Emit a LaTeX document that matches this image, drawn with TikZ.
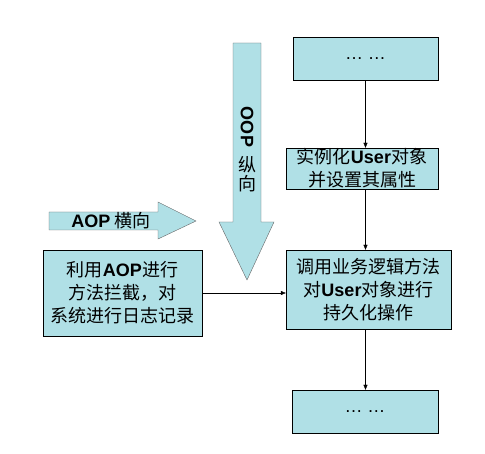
\documentclass[tikz,border=0pt]{standalone}
\usepackage{fontspec}
\setmainfont{Noto Sans CJK SC}
\newfontfamily\latin{Liberation Sans}
\newcommand{\lb}[1]{{\latin\bfseries #1}}
\definecolor{boxcyan}{RGB}{176,224,230}
\usetikzlibrary{arrows.meta}

\begin{document}
\begin{tikzpicture}[x=1pt,y=-1pt,
  blk/.style={draw,fill=boxcyan,font=\fontsize{18}{23}\selectfont,align=center,inner sep=0pt},
  arr/.style={-{Triangle[length=5pt,width=4pt]}},
  fat/.style={draw=black!60,fill=boxcyan},
  lbl/.style={font=\fontsize{18}{23}\selectfont,inner sep=0pt}]
  \useasboundingbox (0,0) rectangle (485,454);
  % block arrows
  \draw[fat] (233,43) -- (261,43) -- (261,222) -- (274,222) -- (247,280) -- (219,222) -- (233,222) -- cycle;
  \draw[fat] (49,212) -- (158,212) -- (158,202) -- (196,221) -- (158,239) -- (158,230) -- (49,230) -- cycle;
  \node[lbl,rotate=-90] (oop) at (247,127) {\lb{OOP}};
  \node[lbl] (zong) at (247,165) {纵};
  \node[lbl] (xiang) at (247,184) {向};
  \node[lbl] (aop) at (111,221) {\lb{AOP} 横向};
  % boxes
  \node[blk,minimum width=145pt,minimum height=43pt] (top) at (365.5,58.5) {{\latin\ldots\ \ldots}};
  \node[blk,minimum width=152pt,minimum height=41pt] (inst) at (362,168.5) {实例化\lb{User}对象\\并设置其属性};
  \node[blk,minimum width=165pt,minimum height=79pt] (persist) at (368.5,289.5) {调用业务逻辑方法\\对\lb{User}对象进行\\持久化操作};
  \node[blk,minimum width=146pt,minimum height=43pt] (bottom) at (365,411.5) {{\latin\ldots\ \ldots}};
  \node[blk,minimum width=159pt,minimum height=86pt] (log) at (122.5,293) {利用\lb{AOP}进行\\方法拦截，对\\系统进行日志记录};
  % connectors
  \draw[arr] (top.south) -- (top.south |- inst.north);
  \draw[arr] (top.south |- inst.south) -- (top.south |- persist.north);
  \draw[arr] (top.south |- persist.south) -- (top.south |- bottom.north);
  \draw[arr] (log.east) -- (log.east -| persist.west);
\end{tikzpicture}
\end{document}
